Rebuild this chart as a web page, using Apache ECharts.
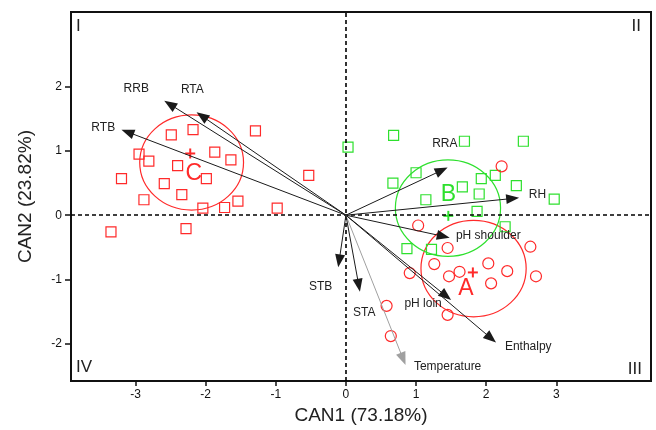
<!DOCTYPE html>
<html>
<head>
<meta charset="utf-8">
<script src="https://cdn.jsdelivr.net/npm/echarts@6/dist/echarts.min.js"></script>
<style>
html, body { margin: 0; padding: 0; background: #fff; }
#main { width: 656px; height: 430px; }
</style>
</head>
<body>
<div id="main"></div>
<script>
// ticks shown on the axes
var xTicks = [-3, -2, -1, 0, 1, 2, 3];
var yTicks = [-2, -1, 0, 1, 2];

// group C (red squares)
var groupC = [
  [-2.49, 1.25], [-2.18, 1.33], [-1.29, 1.31], [-2.95, 0.95], [-2.81, 0.84],
  [-1.87, 0.98], [-1.64, 0.86], [-2.40, 0.77], [-1.99, 0.57], [-2.59, 0.49],
  [-3.20, 0.57], [-2.34, 0.32], [-2.88, 0.24], [-0.53, 0.62], [-2.04, 0.11],
  [-1.73, 0.12], [-1.54, 0.22], [-0.98, 0.11], [-3.35, -0.26], [-2.28, -0.21]
];
// group B (green squares)
var groupB = [
  [0.03, 1.06], [0.68, 1.24], [1.69, 1.15], [2.53, 1.15], [0.67, 0.50],
  [1.00, 0.66], [1.93, 0.57], [2.13, 0.62], [1.66, 0.44], [1.90, 0.33],
  [2.43, 0.46], [1.14, 0.24], [2.97, 0.25], [1.87, 0.06], [2.27, -0.18],
  [0.87, -0.52], [1.22, -0.53]
];
// group A (red circles)
var groupA = [
  [1.03, -0.16], [1.45, -0.51], [2.63, -0.49], [1.26, -0.76], [2.03, -0.75],
  [2.30, -0.87], [0.91, -0.90], [1.62, -0.88], [1.47, -0.95], [2.71, -0.95],
  [2.07, -1.06], [0.58, -1.41], [1.45, -1.55], [0.64, -1.88], [2.22, 0.76]
];

// group centroids (+) and confidence circles
var groupNames = ['A', 'B', 'C'];
var centroidX = [1.81, 1.46, -2.22];
var centroidY = [-0.89, -0.01, 0.96];
var circleX = [1.82, 1.455, -2.20];
var circleY = [-0.83, 0.11, 0.82];
var circleR = [0.75, 0.75, 0.74];
var groupLabelX = [1.71, 1.46, -2.17];
var groupLabelY = [-1.15, 0.32, 0.64];

// loading vectors
var varNames = ['RRB', 'RTA', 'RTB', 'RRA', 'RH', 'pH shoulder', 'pH loin', 'Enthalpy', 'Temperature', 'STB', 'STA'];
var varX = [-2.59, -2.13, -3.20, 1.45, 2.47, 1.48, 1.50, 2.14, 0.85, -0.11, 0.20];
var varY = [1.78, 1.60, 1.33, 0.74, 0.27, -0.35, -1.32, -1.98, -2.33, -0.81, -1.19];
var varLabelX = [-2.99, -2.19, -3.46, 1.41, 2.73, 2.03, 1.10, 2.60, 1.45, -0.36, 0.26];
var varLabelY = [1.97, 1.95, 1.36, 1.11, 0.32, -0.32, -1.38, -2.04, -2.36, -1.11, -1.52];

var RED = '#ff2a2a';
var GREEN = '#2ee02e';
var FONT = '"Liberation Sans", Arial, sans-serif';
var groupColors = [RED, GREEN, RED];

var chart = echarts.init(document.getElementById('main'));

var circleData = groupNames.map(function (n, i) { return [circleX[i], circleY[i], circleR[i]]; });
var centroidData = groupNames.map(function (n, i) { return [centroidX[i], centroidY[i]]; });
var groupLabelData = groupNames.map(function (n, i) { return [groupLabelX[i], groupLabelY[i]]; });
var arrowData = varNames.map(function (n, i) { return [varX[i], varY[i], varLabelX[i], varLabelY[i]]; });

var option = {
  animation: false,
  grid: { left: 71, right: 5, top: 12, bottom: 45, show: true, borderColor: '#111', borderWidth: 2 },
  xAxis: {
    type: 'value', min: -3.92, max: 4.35,
    name: 'CAN1 (73.18%)', nameLocation: 'middle', nameGap: 23,
    nameTextStyle: { fontSize: 19, color: '#222', fontFamily: FONT },
    axisLine: { show: true, onZero: false, lineStyle: { color: '#111', width: 2 } },
    axisTick: { show: true, length: 5, customValues: xTicks, lineStyle: { color: '#111', width: 1.5 } },
    axisLabel: { customValues: xTicks, margin: 8, fontSize: 12, color: '#111', fontFamily: FONT },
    splitLine: { show: false }
  },
  yAxis: {
    type: 'value', min: -2.58, max: 3.16,
    name: 'CAN2 (23.82%)', nameLocation: 'middle', nameGap: 36,
    nameTextStyle: { fontSize: 19, color: '#222', fontFamily: FONT },
    axisLine: { show: true, onZero: false, lineStyle: { color: '#111', width: 2 } },
    axisTick: { show: true, length: 6, customValues: yTicks, lineStyle: { color: '#111', width: 1.5 } },
    axisLabel: { customValues: yTicks, margin: 9, fontSize: 12, color: '#111', fontFamily: FONT },
    splitLine: { show: false }
  },
  graphic: [
    { type: 'text', left: 76, top: 18, style: { text: 'I', fontSize: 17, fill: '#222', fontFamily: FONT } },
    { type: 'text', right: 15, top: 18, style: { text: 'II', fontSize: 17, fill: '#222', fontFamily: FONT } },
    { type: 'text', right: 14, top: 361, style: { text: 'III', fontSize: 17, fill: '#222', fontFamily: FONT } },
    { type: 'text', left: 76, top: 359, style: { text: 'IV', fontSize: 17, fill: '#222', fontFamily: FONT } }
  ],
  series: [
    {
      type: 'scatter', name: 'C', data: groupC, symbol: 'rect', symbolSize: 10,
      itemStyle: { color: 'rgba(0,0,0,0)', borderColor: RED, borderWidth: 1.2, opacity: 1 },
      markLine: {
        silent: true, symbol: 'none', label: { show: false },
        lineStyle: { color: '#000', type: [4, 3], width: 1.6 },
        data: [{ xAxis: 0 }, { yAxis: 0 }]
      },
      z: 3
    },
    {
      type: 'scatter', name: 'B', data: groupB, symbol: 'rect', symbolSize: 10,
      itemStyle: { color: 'rgba(0,0,0,0)', borderColor: GREEN, borderWidth: 1.2, opacity: 1 }, z: 3
    },
    {
      type: 'scatter', name: 'A', data: groupA, symbol: 'circle', symbolSize: 11,
      itemStyle: { color: 'rgba(0,0,0,0)', borderColor: RED, borderWidth: 1.2, opacity: 1 }, z: 3
    },
    {
      type: 'custom', name: 'circles', data: circleData, encode: { x: 0, y: 1 },
      renderItem: function (params, api) {
        var c = api.coord([api.value(0), api.value(1)]);
        var s = api.size([api.value(2), api.value(2)]);
        return {
          type: 'ellipse',
          shape: { cx: c[0], cy: c[1], rx: s[0], ry: s[1] },
          style: { fill: 'none', stroke: groupColors[params.dataIndex], lineWidth: 1.2 }
        };
      },
      z: 2
    },
    {
      type: 'custom', name: 'centroids', data: centroidData, encode: { x: 0, y: 1 },
      renderItem: function (params, api) {
        var c = api.coord([api.value(0), api.value(1)]);
        var col = groupColors[params.dataIndex];
        return {
          type: 'group',
          children: [
            { type: 'line', shape: { x1: c[0] - 5, y1: c[1], x2: c[0] + 5, y2: c[1] }, style: { stroke: col, lineWidth: 2 } },
            { type: 'line', shape: { x1: c[0], y1: c[1] - 5, x2: c[0], y2: c[1] + 5 }, style: { stroke: col, lineWidth: 2 } }
          ]
        };
      },
      z: 4
    },
    {
      type: 'custom', name: 'groupLabels', data: groupLabelData, encode: { x: 0, y: 1 },
      renderItem: function (params, api) {
        var c = api.coord([api.value(0), api.value(1)]);
        return {
          type: 'text', x: c[0], y: c[1],
          style: { text: groupNames[params.dataIndex], fill: groupColors[params.dataIndex], fontSize: 23,
                   fontFamily: FONT, align: 'center', verticalAlign: 'middle' }
        };
      },
      z: 4
    },
    {
      type: 'custom', name: 'vectors', data: arrowData, encode: { x: 0, y: 1 },
      renderItem: function (params, api) {
        var i = params.dataIndex;
        var col = varNames[i] === 'Temperature' ? '#a0a0a0' : '#1a1a1a';
        var p0 = api.coord([0, 0]);
        var p1 = api.coord([api.value(0), api.value(1)]);
        var lp = api.coord([api.value(2), api.value(3)]);
        var dx = p1[0] - p0[0], dy = p1[1] - p0[1];
        var len = Math.sqrt(dx * dx + dy * dy);
        var ux = dx / len, uy = dy / len;
        var hl = 13, hw = 5;
        var bx = p1[0] - ux * hl, by = p1[1] - uy * hl;
        return {
          type: 'group',
          children: [
            { type: 'line', shape: { x1: p0[0], y1: p0[1], x2: bx + ux * 2, y2: by + uy * 2 },
              style: { stroke: col, lineWidth: 1 } },
            { type: 'polygon', shape: { points: [[p1[0], p1[1]], [bx - uy * hw, by + ux * hw], [bx + uy * hw, by - ux * hw]] },
              style: { fill: col } },
            { type: 'text', x: lp[0], y: lp[1],
              style: { text: varNames[i], fill: '#222', fontSize: 12, fontFamily: FONT, align: 'center', verticalAlign: 'middle' } }
          ]
        };
      },
      z: 5
    }
  ]
};

chart.setOption(option);
</script>
</body>
</html>
